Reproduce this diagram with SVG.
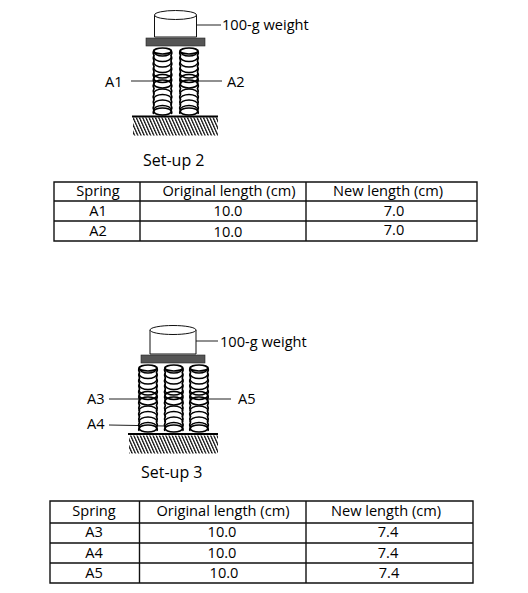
<svg xmlns="http://www.w3.org/2000/svg" width="528" height="593" viewBox="0 0 528 593">
<style>
text{font-family:"Open Sans","Noto Sans","Liberation Sans",sans-serif;font-size:14.6px;fill:#000}
.m{text-anchor:middle}
.l{stroke:#222;stroke-width:1.2;fill:none}
.t{stroke:#111;stroke-width:1.4;fill:none}
.c{stroke:#000;stroke-width:1.5;fill:none}
.e{stroke:#000;stroke-width:1.7;fill:none}
.w{stroke:#111;stroke-width:1;fill:#fff}
.p{fill:#555;stroke:#222;stroke-width:.6}
</style>
<defs>
<pattern id="h" width="3.2" height="20" patternUnits="userSpaceOnUse" patternTransform="skewX(24)">
<rect width="1.4" height="20" fill="#111"/>
</pattern>
<path id="side" class="e" d="M0 3q-1.500 2.750 0 5.500q-1.500 2.750 0 5.500q-1.500 2.750 0 5.500q-1.500 2.750 0 5.500q-1.500 2.750 0 5.500q-1.500 2.750 0 5.500q-1.500 2.750 0 5.500q-1.500 2.750 0 5.500q-1.500 2.750 0 5.500q-1.500 2.750 0 5.500q-1.500 2.750 0 5.500q-1.500 2.750 0 3"/>
<g id="s">
<rect x="-9" y="0" width="18" height="69" fill="#fff"/>
<use href="#side" x="-8.500"/>
<use href="#side" transform="translate(8.500 0) scale(-1 1)"/>
<ellipse class="e" cx="0" cy="4" rx="8.800" ry="3"/>
<path class="c" d="M-9 4A9 5 0 0 0 9 4M-9 9.500A9 5 0 0 0 9 9.500M-9 15A9 5 0 0 0 9 15M-9 20.500A9 5 0 0 0 9 20.500M-9 26A9 5 0 0 0 9 26"/>
<ellipse class="e" cx="0" cy="31.500" rx="8.800" ry="4"/>
<ellipse class="e" cx="0" cy="37" rx="8.800" ry="4"/>
<path class="c" d="M-9 47A9 5 0 0 1 9 47M-9 52.500A9 5 0 0 1 9 52.500M-9 58A9 5 0 0 1 9 58M-9 63.500A9 5 0 0 1 9 63.500"/>
<ellipse class="e" cx="0" cy="64.500" rx="8.800" ry="3.500"/>
</g>
</defs>
<g id="connectors2">
<path class="l" d="M197 25H221M131 81H155M197 81H222"/>
</g>
<g id="connectors3">
<path class="l" d="M196 341H218M109 399H140M207 399H231M109 425L165 426"/>
</g>
<g id="setup2">
<g id="spring-a1"><use href="#s" x="162.500" y="47"/></g>
<g id="spring-a2"><use href="#s" x="189" y="47"/></g>
<g id="ground2"><rect x="133" y="117.500" width="85" height="18" fill="url(#h)"/><path d="M132 116.500H218" stroke="#000" stroke-width="2"/></g>
<g id="plate2"><rect class="p" x="146" y="38" width="59" height="8"/></g>
<g id="weight2"><path class="w" d="M154.500 15V37H196.500V15"/><ellipse class="w" cx="175.500" cy="15" rx="21" ry="4.500"/></g>
<text x="222" y="30">100-g weight</text>
<text x="105" y="87">A1</text>
<text x="227" y="87">A2</text>
<text x="143" y="166" style="font-size:16px">Set-up 2</text>
</g>
<g id="table2">
<path class="t" d="M54 182H477V241H54ZM54 201H477M54 221H477M140 182V241M306 182V241"/>
<text class="m" x="98" y="196">Spring</text><text class="m" x="229" y="196">Original length (cm)</text><text class="m" x="388" y="196">New length (cm)</text>
<text class="m" x="98" y="216">A1</text><text class="m" x="228" y="216">10.0</text><text class="m" x="394" y="216">7.0</text>
<text class="m" x="98" y="236">A2</text><text class="m" x="228" y="237">10.0</text><text class="m" x="394" y="235">7.0</text>
</g>
<g id="setup3">
<g id="spring-a3"><use href="#s" x="148" y="364"/></g>
<g id="spring-a4"><use href="#s" x="173.800" y="364"/></g>
<g id="spring-a5"><use href="#s" x="199" y="364"/></g>
<g id="ground3"><rect x="129" y="435.500" width="89" height="18" fill="url(#h)"/><path d="M128 434H218" stroke="#000" stroke-width="2"/></g>
<g id="plate3"><rect class="p" x="141" y="355" width="64" height="8"/></g>
<g id="weight3"><path class="w" d="M150 330V354H196V330"/><ellipse class="w" cx="173" cy="330" rx="23" ry="4.500"/></g>
<text x="220" y="347">100-g weight</text>
<text x="87" y="404">A3</text>
<text x="238" y="404">A5</text>
<text x="87" y="429">A4</text>
<text x="141" y="478" style="font-size:16px">Set-up 3</text>
</g>
<g id="table3">
<path class="t" d="M50 501H473V583H50ZM50 523H473M50 543H473M50 563H473M139.500 501V583M306 501V583"/>
<text class="m" x="94" y="516">Spring</text><text class="m" x="223" y="516">Original length (cm)</text><text class="m" x="386" y="516">New length (cm)</text>
<text class="m" x="94" y="537">A3</text><text class="m" x="222" y="537">10.0</text><text class="m" x="388" y="537">7.4</text>
<text class="m" x="94" y="558">A4</text><text class="m" x="222" y="558">10.0</text><text class="m" x="388" y="558">7.4</text>
<text class="m" x="94" y="578">A5</text><text class="m" x="224" y="578">10.0</text><text class="m" x="389" y="578">7.4</text>
</g>
</svg>
